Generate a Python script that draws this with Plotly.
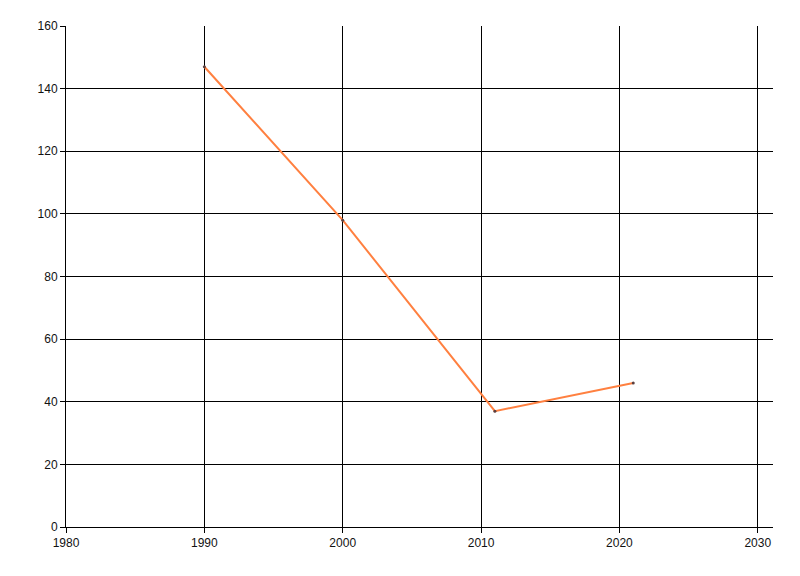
import plotly.graph_objects as go

years = [1990, 2000, 2011, 2021]
values = [147, 98, 37, 46]
x_ticks = [1980, 1990, 2000, 2010, 2020, 2030]
y_ticks = [0, 20, 40, 60, 80, 100, 120, 140, 160]

fig = go.Figure()
fig.add_trace(go.Scatter(
    x=years, y=values, mode="lines+markers",
    line=dict(color="#FF8040", width=2),
    marker=dict(size=3, color="#5a4040"),
    showlegend=False,
))

axis_common = dict(
    showgrid=True, gridcolor="black", gridwidth=1,
    showline=True, linecolor="black", linewidth=1,
    ticks="outside", ticklen=5, tickcolor="black", tickwidth=1,
    zeroline=False, mirror=False,
    tickfont=dict(family="Liberation Sans, Arial, sans-serif", size=12, color="#111"),
)

fig.update_xaxes(range=[1980, 2031.1], tickvals=x_ticks,
                 ticktext=[str(t) for t in x_ticks], **axis_common)
fig.update_yaxes(range=[0, 160], tickvals=y_ticks,
                 ticktext=[str(t) for t in y_ticks], **axis_common)

# page body has an 8px default margin, so size/margins compensate for it
fig.update_layout(
    width=792, height=568,
    margin=dict(l=58, r=27, t=18, b=49),
    plot_bgcolor="white", paper_bgcolor="white",
)

fig.write_html("out.html")
